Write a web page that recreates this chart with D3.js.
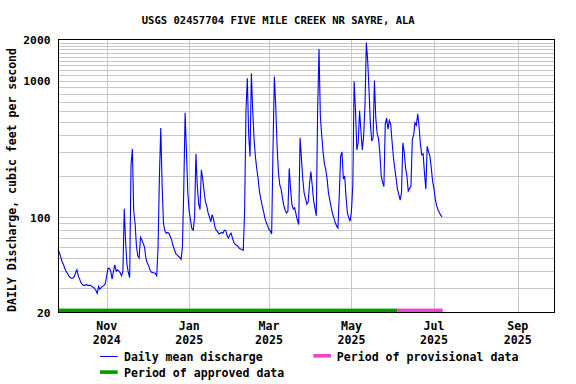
<!DOCTYPE html>
<html><head><meta charset="utf-8">
<script src="https://cdn.jsdelivr.net/npm/d3@7"></script>
<style>body{margin:0;background:#fff}svg{display:block}text{font-family:"DejaVu Sans Mono",monospace;font-weight:bold;fill:#000}</style>
</head><body><svg id="c" width="576" height="384"></svg>
<script>
// ---------- data ----------
const chartTitle = "USGS 02457704 FIVE MILE CREEK NR SAYRE, ALA";
const yAxisTitle = "DAILY Discharge, cubic feet per second";
const firstDay = "2024-09-26";           // date of discharge[0]
const domainStart = "2024-09-26";
const domainEnd = "2025-09-28";
const provisionalStart = "2025-06-04";
const discharge = [
58,55,51,47,45,42,40,38.5,37,36,35.5,35.5,36.5,39,41,37,35,33,32,31.5,31.5,32,31.5,31.5,31.5,31,30.5,30,29,27.5,31,29.5,30.5,31,31.5,32.5,37,42,42,40,35,40,44.5,40,41,40,39,
37,40,115,65,45,39,36,240,315,110,90,61,52,50,71,68,64,60,50,46,44,41,39.5,39,39,38.5,37,60,200,448,170,90,79,76,77,76,72,68,62,58,54,53,51.5,50.5,49,60,160,580,300,150,110,95,82,80,100,290,170,125,113,222,190,155,130,120,107,100,92,104,96,85,80,78,75,76,77,76,80,80,73,70,74,76,70,65,63,62,61,59,58,58,57,
110,600,1040,400,277,1130,600,370,275,225,190,153,135,121,110,98,91,86,81,79,75,320,1070,650,330,213,172,160,137,121,112,107,110,227,160,123,114,117,105,95,88,380,270,190,150,137,124,128,175,215,170,132,116,102,
600,1700,550,395,300,245,222,190,150,133,118,106,98,91,86,83,145,280,300,190,200,140,107,99,93,110,171,990,600,310,350,600,430,310,390,650,1900,1400,850,480,360,380,1000,530,410,375,295,200,180,167,480,530,440,510,480,360,275,228,192,
160,147,133,150,350,300,230,200,155,162,168,370,400,490,470,570,460,340,285,290,210,160,330,300,280,230,183,162,135,121,113,108,103,100
];
const yTickValues = [20, 100, 1000, 2000];
const yGridValues = [30,40,50,60,70,80,90,100,200,300,400,500,600,700,800,900,1000,1100,1200,1300,1400,1500,1600,1700,1800,1900];
const xTickDates = ["2024-11-01","2025-01-01","2025-03-01","2025-05-01","2025-07-01","2025-09-01"];
const xTickMonths = ["Nov","Jan","Mar","May","Jul","Sep"];
const xTickYears = ["2024","2025","2025","2025","2025","2025"];
const legendLabels = ["Daily mean discharge","Period of provisional data","Period of approved data"];
const colors = {line:"#0000ff", approved:"#009900", provisional:"#ee44d2", grid:"#c8c8c8"};

// ---------- drawing ----------
const svg = d3.select("#c");
const L = 58.5, R = 554.5, T = 39.5, B = 312.5;
const parse = d3.utcParse("%Y-%m-%d");
const x = d3.scaleUtc().domain([parse(domainStart), parse(domainEnd)]).range([58, 554.3]);
const y = d3.scaleLog().domain([20, 2000]).range([312.3, 39.5]);
const t0 = parse(firstDay);
const series = discharge.map((v, i) => ({date: d3.utcDay.offset(t0, i), v}));

// horizontal grid
const gy = svg.append("g").attr("transform", `translate(${L},0)`)
  .call(d3.axisLeft(y).tickValues(yGridValues).tickSize(-(R - L)).tickFormat(""));
gy.select(".domain").remove();
gy.selectAll("line").attr("stroke", colors.grid).attr("stroke-width", 1)
  .attr("transform", function(){ return null; });
gy.selectAll(".tick").attr("transform", d => `translate(0,${Math.round(y(d)) + 0.5})`);

// vertical grid
const gx = svg.append("g").attr("transform", `translate(0,${B})`)
  .call(d3.axisBottom(x).tickValues(xTickDates.map(parse)).tickSize(-(B - T)).tickFormat(""));
gx.select(".domain").remove();
gx.selectAll("line").attr("stroke", colors.grid).attr("stroke-width", 1);
gx.selectAll(".tick").attr("transform", d => `translate(${Math.round(x(d)) + 0.5},0)`);

// data line
const line = d3.line().x(d => x(d.date)).y(d => y(d.v));
svg.append("path").datum(series).attr("d", line)
  .attr("fill", "none").attr("stroke", colors.line).attr("stroke-width", 1.1);

// status bars
const lastDate = d3.utcHour.offset(series[series.length - 1].date, 12);
const pStart = parse(provisionalStart);
svg.append("rect").attr("x", x(series[0].date)).attr("y", 308.6)
  .attr("width", x(pStart) - x(series[0].date)).attr("height", 3.6).attr("fill", colors.approved);
svg.append("rect").attr("x", x(pStart)).attr("y", 308.6)
  .attr("width", x(lastDate) - x(pStart)).attr("height", 3.6).attr("fill", colors.provisional);

// frame
svg.append("rect").attr("x", L).attr("y", T).attr("width", R - L).attr("height", B - T)
  .attr("fill", "none").attr("stroke", "#000").attr("stroke-width", 1);

// y tick labels
const ya = svg.append("g").attr("transform", `translate(${L},0)`)
  .call(d3.axisLeft(y).tickValues(yTickValues).tickSize(0).tickPadding(8).tickFormat(d3.format("d")));
ya.select(".domain").remove();
ya.selectAll("text").attr("font-size", 11.3).attr("x", -8).attr("dy", "0.36em")
  .style("font-family", '"DejaVu Sans Mono",monospace').style("font-weight", "bold").attr("fill", "#000");

// x tick labels (two rows)
const xa = svg.append("g");
xTickDates.forEach((ds, i) => {
  const cx = x(parse(ds));
  xa.append("text").attr("x", cx).attr("y", 330).attr("text-anchor", "middle").attr("font-size", 11.6).text(xTickMonths[i]);
  xa.append("text").attr("x", cx).attr("y", 343.5).attr("text-anchor", "middle").attr("font-size", 11.6).text(xTickYears[i]);
});

// title
svg.append("text").attr("x", 141.7).attr("y", 24).attr("font-size", 10.6)
  .attr("textLength", 273).attr("lengthAdjust", "spacingAndGlyphs").text(chartTitle);

// y axis title
svg.append("text").attr("transform", "translate(15.5,180) rotate(-90)").attr("text-anchor", "middle")
  .attr("font-size", 11.5).attr("textLength", 264).attr("lengthAdjust", "spacingAndGlyphs").text(yAxisTitle);

// legend
const lg = svg.append("g");
lg.append("line").attr("x1", 100).attr("x2", 117.7).attr("y1", 356.5).attr("y2", 356.5)
  .attr("stroke", colors.line).attr("stroke-width", 1);
lg.append("text").attr("x", 124).attr("y", 360.5).attr("font-size", 11.6)
  .attr("textLength", 138.7).attr("lengthAdjust", "spacingAndGlyphs").text(legendLabels[0]);
lg.append("rect").attr("x", 313.3).attr("y", 354).attr("width", 17.7).attr("height", 3.6).attr("fill", colors.provisional);
lg.append("text").attr("x", 336.7).attr("y", 360.5).attr("font-size", 11.6)
  .attr("textLength", 181.7).attr("lengthAdjust", "spacingAndGlyphs").text(legendLabels[1]);
lg.append("rect").attr("x", 100).attr("y", 370.3).attr("width", 17.7).attr("height", 3.6).attr("fill", colors.approved);
lg.append("text").attr("x", 124).attr("y", 376.5).attr("font-size", 11.6)
  .attr("textLength", 160.3).attr("lengthAdjust", "spacingAndGlyphs").text(legendLabels[2]);
</script></body></html>
